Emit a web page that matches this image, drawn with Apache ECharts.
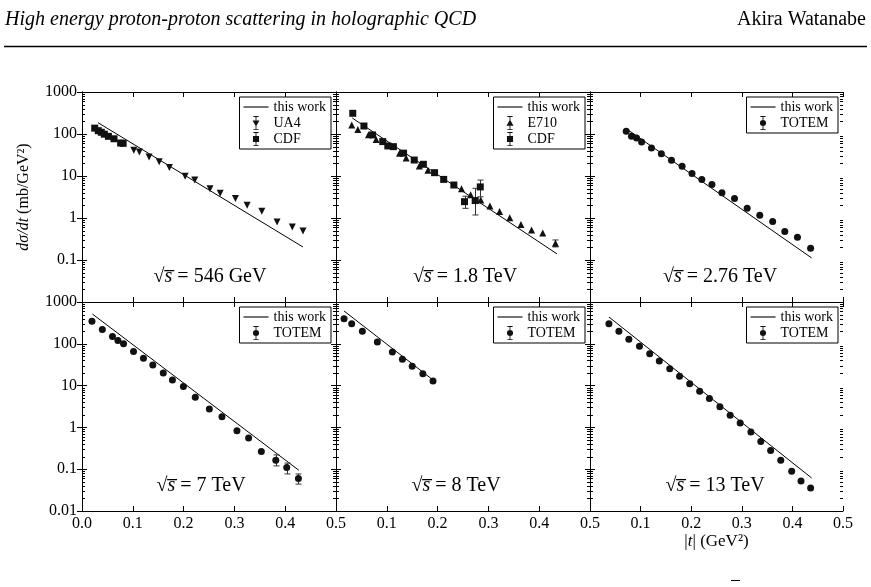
<!DOCTYPE html>
<html>
<head>
<meta charset="utf-8">
<script src="https://cdn.jsdelivr.net/npm/echarts@6/dist/echarts.min.js"></script>
<style>
html, body { margin: 0; padding: 0; background: #fff; }
#chart { width: 871px; height: 587px; }
</style>
</head>
<body>
<div id="chart"></div>
<script>
// |t| (GeV^2) , dsigma/dt (mb/GeV^2)
var theory546 = [[0.0315, 186], [0.435, 0.204]];
var ua4_546 = [[0.102, 41], [0.113, 37.5], [0.132, 28.5], [0.152, 21.7], [0.172, 16], [0.203, 9.9], [0.222, 8.0],
  [0.252, 4.95], [0.272, 3.9], [0.302, 2.9], [0.325, 2.0], [0.354, 1.44], [0.384, 0.80], [0.414, 0.61], [0.435, 0.49]];
var cdf546 = [[0.025, 138], [0.032, 120], [0.038, 110], [0.044, 99], [0.052, 88], [0.063, 77], [0.076, 61], [0.081, 60]];

var theory1800 = [[0.032, 240], [0.435, 0.14]];
var e710_1800 = [[0.031, 164], [0.043, 128], [0.064, 96], [0.079, 74], [0.125, 35], [0.138, 27], [0.164, 17.3],
  [0.181, 13.8], [0.247, 5.0], [0.265, 3.6], [0.285, 2.7], [0.303, 1.93], [0.322, 1.42], [0.342, 1.01],
  [0.364, 0.70], [0.385, 0.52], [0.407, 0.44], [0.432, 0.25]];
var e710_1800_err = [[0.432, 0.205, 0.30]];
var cdf1800 = [[0.033, 311], [0.055, 155], [0.072, 95], [0.092, 66], [0.102, 52], [0.113, 50], [0.133, 35],
  [0.154, 24], [0.172, 19], [0.194, 12], [0.212, 8.3], [0.232, 6.1], [0.253, 2.45], [0.274, 2.6], [0.284, 5.5]];
var cdf1800_err = [[0.253, 1.7, 3.3], [0.274, 1.18, 5.1], [0.284, 3.2, 8.0]];

var theory2760 = [[0.0716, 134], [0.438, 0.112]];
var totem2760 = [[0.0716, 116], [0.082, 88], [0.092, 80], [0.102, 64.5], [0.1215, 46.4], [0.141, 34], [0.161, 23.6],
  [0.182, 17], [0.2016, 11.4], [0.221, 8.3], [0.241, 6.3], [0.2607, 4.0], [0.2856, 2.9], [0.3106, 1.7],
  [0.3355, 1.16], [0.361, 0.83], [0.385, 0.48], [0.410, 0.35], [0.436, 0.19]];

var theory7000 = [[0.0205, 515], [0.427, 0.094]];
var totem7000 = [[0.0196, 344], [0.040, 221], [0.060, 150], [0.0707, 120], [0.0818, 100], [0.1014, 65.5],
  [0.121, 45.3], [0.1394, 31.3], [0.160, 20.1], [0.178, 13.7], [0.1996, 9.5], [0.223, 5.25], [0.2507, 2.75],
  [0.2755, 1.8], [0.305, 0.83], [0.328, 0.555], [0.353, 0.265], [0.3815, 0.164], [0.403, 0.11], [0.426, 0.06]];
var totem7000_err = [[0.3815, 0.12, 0.22], [0.403, 0.077, 0.14], [0.426, 0.044, 0.077]];

var theory8000 = [[0.0158, 610], [0.19, 13.9]];
var totem8000 = [[0.0158, 399], [0.0309, 303], [0.0519, 199], [0.0814, 110], [0.111, 63.7], [0.1307, 42.5],
  [0.150, 28.9], [0.171, 19.3], [0.191, 12.9]];

var theory13000 = [[0.0374, 438], [0.438, 0.0616]];
var totem13000 = [[0.0374, 303], [0.0571, 199], [0.0768, 128], [0.0978, 87], [0.118, 58], [0.137, 38.8],
  [0.1576, 25.4], [0.177, 16.7], [0.197, 11.1], [0.2167, 7.3], [0.236, 4.9], [0.2567, 3.1], [0.277, 1.94],
  [0.2968, 1.27], [0.318, 0.78], [0.3375, 0.46], [0.357, 0.28], [0.377, 0.163], [0.3986, 0.089],
  [0.417, 0.052], [0.436, 0.0355]];

var xTickLabels = ['0.0', '0.1', '0.2', '0.3', '0.4', '0.5'];
var yTickLabels = ['0.01', '0.1', '1', '10', '100', '1000'];
var yMinorTicks = [0.02, 0.03, 0.04, 0.05, 0.06, 0.07, 0.08, 0.09,
  0.2, 0.3, 0.4, 0.5, 0.6, 0.7, 0.8, 0.9,
  2, 3, 4, 5, 6, 7, 8, 9,
  20, 30, 40, 50, 60, 70, 80, 90,
  200, 300, 400, 500, 600, 700, 800, 900];

var SERIF = 'Liberation Serif';
var INK = '#111';

var icons = {
  line: 'path://M0,0h25v1.1h-25z',
  down: 'path://M4,0h6v1h-6zM6.5,1h1v14h-1zM4,15h6v1h-6zM3,5h8l-4,7z',
  up: 'path://M4,0h6v1h-6zM6.5,1h1v14h-1zM4,15h6v1h-6zM7,4l4,7h-8z',
  square: 'path://M4,0h6v1h-6zM6.5,1h1v14h-1zM4,15h6v1h-6zM3.5,4.5h7v7h-7z',
  circle: 'path://M4,0h6v1h-6zM6.5,1h1v14h-1zM4,15h6v1h-6zM3.5,8a3.5,3.5 0 1,1 7,0a3.5,3.5 0 1,1 -7,0z'
};

var panels = [
  { label: '546 GeV', at: [210, 277], theory: theory546, sets: [
    { name: 'UA4', data: ua4_546, symbol: 'triangle', rotate: 180, icon: icons.down },
    { name: 'CDF', data: cdf546, symbol: 'rect', icon: icons.square }], err: [] },
  { label: '1.8 TeV', at: [465, 277], theory: theory1800, sets: [
    { name: 'E710', data: e710_1800, symbol: 'triangle', rotate: 0, icon: icons.up },
    { name: 'CDF', data: cdf1800, symbol: 'rect', icon: icons.square }], err: [e710_1800_err, cdf1800_err] },
  { label: '2.76 TeV', at: [720, 277], theory: theory2760, sets: [
    { name: 'TOTEM', data: totem2760, symbol: 'circle', icon: icons.circle }], err: [] },
  { label: '7 TeV', at: [201, 486], theory: theory7000, sets: [
    { name: 'TOTEM', data: totem7000, symbol: 'circle', icon: icons.circle }], err: [totem7000_err] },
  { label: '8 TeV', at: [456, 486], theory: theory8000, sets: [
    { name: 'TOTEM', data: totem8000, symbol: 'circle', icon: icons.circle }], err: [] },
  { label: '13 TeV', at: [715, 486], theory: theory13000, sets: [
    { name: 'TOTEM', data: totem13000, symbol: 'circle', icon: icons.circle }], err: [] }
];

var cols = [82, 336, 590];
var colW = [254, 254, 253];
var rows = [92, 302];
var rowH = [210, 209];

var grids = [], xAxes = [], yAxes = [], series = [], legends = [], graphics = [];

function tickLine(len) {
  return { show: true, inside: true, length: len, lineStyle: { color: '#000', width: 1 } };
}
var axisLine = { show: true, lineStyle: { color: '#000', width: 1 } };

panels.forEach(function (p, i) {
  var r = Math.floor(i / 3), c = i % 3;
  grids.push({ left: cols[c], top: rows[r], width: colW[c], height: rowH[r] });

  var xLabel = {
    show: r === 1, color: '#000', fontFamily: SERIF, fontSize: 16, margin: 5,
    formatter: function (v) {
      var k = Math.round(v * 10);
      if (c > 0 && k === 0) return '';
      return xTickLabels[k];
    }
  };
  var xBase = { gridIndex: i, type: 'value', min: 0, max: 0.5, interval: 0.1,
    axisLine: axisLine, axisTick: tickLine(5), splitLine: { show: false } };
  xAxes.push(Object.assign({}, xBase, { position: 'bottom', axisLabel: xLabel }));
  xAxes.push(Object.assign({}, xBase, { position: 'top', axisLabel: { show: false } }));

  var yLabel = {
    show: c === 0, color: '#000', fontFamily: SERIF, fontSize: 16, margin: 5,
    formatter: function (v) {
      var k = Math.round(Math.log10(v));
      if (r === 0 && k === -2) return '';
      return yTickLabels[k + 2];
    }
  };
  var yBase = { gridIndex: i, type: 'log', logBase: 10, min: 0.01, max: 1000,
    axisLine: axisLine, axisTick: tickLine(5), splitLine: { show: false } };
  var yLeft = Object.assign({}, yBase, { position: 'left', axisLabel: yLabel });
  if (i === 0) {
    yLeft.name = '{i|dσ/dt} (mb/GeV²)';
    yLeft.nameLocation = 'middle';
    yLeft.nameRotate = 90;
    yLeft.nameGap = 50;
    yLeft.nameTextStyle = { color: '#000', fontFamily: SERIF, fontSize: 16,
      rich: { i: { fontStyle: 'italic', fontFamily: SERIF, fontSize: 16, color: '#000' } } };
  }
  yAxes.push(yLeft);
  yAxes.push(Object.assign({}, yBase, { position: 'right', axisLabel: { show: false } }));

  if (i === 5) {
    var xb = xAxes[xAxes.length - 2];
    xb.name = '|{i|t}| (GeV²)';
    xb.nameLocation = 'middle';
    xb.nameGap = 18;
    xb.nameTextStyle = { color: '#000', fontFamily: SERIF, fontSize: 17, verticalAlign: 'top',
      rich: { i: { fontStyle: 'italic', fontFamily: SERIF, fontSize: 17, color: '#000' } } };
  }

  var xi = i * 2, yi = i * 2;

  // log minor ticks on both vertical edges
  series.push({
    type: 'custom', xAxisIndex: xi, yAxisIndex: yi, silent: true, clip: false, z: 5,
    data: yMinorTicks.map(function (v) { return [0, v]; }),
    renderItem: function (params, api) {
      var v = api.value(1);
      var a = api.coord([0, v]), b = api.coord([0.5, v]);
      var y = Math.round(a[1]) + 0.5;
      var st = { stroke: '#000', lineWidth: 1 };
      return { type: 'group', children: [
        { type: 'line', shape: { x1: a[0], y1: y, x2: a[0] + 3, y2: y }, style: st },
        { type: 'line', shape: { x1: b[0] - 3, y1: y, x2: b[0], y2: y }, style: st }
      ] };
    }
  });

  series.push({
    name: 'this work', type: 'line', xAxisIndex: xi, yAxisIndex: yi, data: p.theory,
    symbol: 'none', silent: true, z: 2,
    lineStyle: { color: '#000', width: 1 }, itemStyle: { color: '#000' }
  });

  p.err.forEach(function (e) {
    series.push({
      type: 'custom', xAxisIndex: xi, yAxisIndex: yi, silent: true, z: 3,
      data: e, encode: { x: 0, y: [1, 2] },
      renderItem: function (params, api) {
        var x = api.value(0);
        var lo = api.coord([x, api.value(1)]), hi = api.coord([x, api.value(2)]);
        var cx = Math.round(lo[0]) + 0.5;
        var st = { stroke: '#333', lineWidth: 1 };
        return { type: 'group', children: [
          { type: 'line', shape: { x1: cx, y1: lo[1], x2: cx, y2: hi[1] }, style: st },
          { type: 'line', shape: { x1: cx - 3, y1: lo[1], x2: cx + 3, y2: lo[1] }, style: st },
          { type: 'line', shape: { x1: cx - 3, y1: hi[1], x2: cx + 3, y2: hi[1] }, style: st }
        ] };
      }
    });
  });

  var legendData = [{ name: 'this work', icon: icons.line }];
  p.sets.forEach(function (s) {
    series.push({
      name: s.name, type: 'scatter', xAxisIndex: xi, yAxisIndex: yi, data: s.data,
      symbol: s.symbol, symbolSize: 7, symbolRotate: s.rotate || 0, silent: true, z: 4,
      itemStyle: { color: INK, opacity: 1 }
    });
    legendData.push({ name: s.name, icon: s.icon });
  });

  legends.push({
    data: legendData, orient: 'vertical', selectedMode: false,
    top: rows[r] + 5, right: 871 - (cols[c] + colW[c]) + 5,
    itemWidth: 25, itemHeight: 14, itemGap: 2, padding: [3, 5, 3, 4],
    borderColor: '#000', borderWidth: 1, borderRadius: 0, backgroundColor: '#fff',
    itemStyle: { opacity: 1 },
    textStyle: { color: '#000', fontFamily: SERIF, fontSize: 14 }
  });

  graphics.push({
    type: 'text', x: p.at[0], y: p.at[1], z: 10,
    style: {
      text: '{r|√}{s|s\u0305} = ' + p.label,
      rich: {
        r: { fontFamily: SERIF, fontSize: 20, fill: '#000' },
        s: { fontFamily: SERIF, fontSize: 20, fontStyle: 'italic', fill: '#000' }
      },
      fontFamily: SERIF, fontSize: 20, fill: '#000', align: 'center', verticalAlign: 'middle'
    }
  });
});

// running header of the page
graphics.push({
  type: 'text', x: 5, y: 20,
  style: { text: 'High energy proton-proton scattering in holographic QCD', fontFamily: SERIF,
    fontSize: 20, fontStyle: 'italic', fill: '#000', verticalAlign: 'middle' }
});
graphics.push({
  type: 'text', x: 866, y: 20,
  style: { text: 'Akira Watanabe', fontFamily: SERIF, fontSize: 20, fill: '#000',
    align: 'right', verticalAlign: 'middle' }
});
graphics.push({
  type: 'line', shape: { x1: 4, y1: 46.5, x2: 867, y2: 46.5 }, style: { stroke: '#000', lineWidth: 1.5 }
});
graphics.push({
  type: 'line', shape: { x1: 731, y1: 580.5, x2: 740, y2: 580.5 }, style: { stroke: '#000', lineWidth: 1 }
});

var chart = echarts.init(document.getElementById('chart'));
chart.setOption({
  animation: false,
  backgroundColor: '#fff',
  textStyle: { fontFamily: SERIF },
  grid: grids,
  xAxis: xAxes,
  yAxis: yAxes,
  legend: legends,
  series: series,
  graphic: graphics
});
</script>
</body>
</html>
